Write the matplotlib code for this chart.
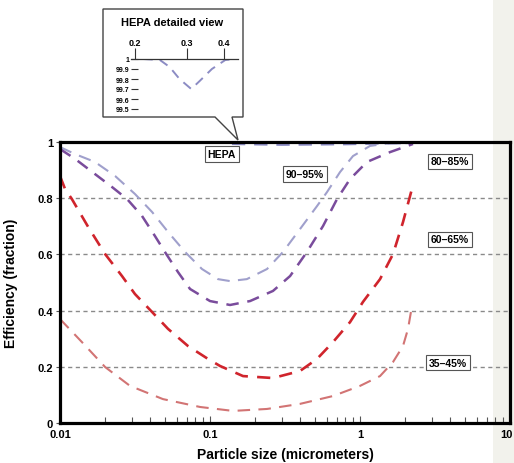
import matplotlib
matplotlib.use("Agg")
import matplotlib.pyplot as plt
from matplotlib.patches import Polygon, Rectangle
import matplotlib.transforms as mtransforms

plt.rcParams['font.family'] = ['Liberation Sans', 'DejaVu Sans']
plt.rcParams['font.weight'] = 'bold'

# particle size (micrometers) and efficiency (fraction) for each filter class
size_hepa = [0.14, 0.3, 0.8, 1.5, 2.15]
eff_hepa = [0.993, 0.99, 0.992, 0.995, 0.996]

size_90 = [0.01, 0.0126, 0.0171, 0.0233, 0.0316, 0.0411, 0.0525, 0.0681, 0.0884,
           0.113, 0.136, 0.176, 0.240, 0.307, 0.398, 0.517, 0.603, 0.736, 0.898,
           1.166, 1.585, 2.154]
eff_90 = [0.982, 0.957, 0.929, 0.879, 0.815, 0.751, 0.680, 0.609, 0.548,
          0.512, 0.505, 0.512, 0.548, 0.609, 0.690, 0.772, 0.822, 0.893, 0.950,
          0.986, 0.996, 0.996]

size_80 = [0.01, 0.0126, 0.0171, 0.0222, 0.028, 0.0352, 0.043, 0.050, 0.0612,
           0.0736, 0.10, 0.136, 0.185, 0.263, 0.342, 0.443, 0.567, 0.703, 0.858,
           1.113, 1.585, 2.256]
eff_80 = [0.975, 0.940, 0.886, 0.840, 0.797, 0.737, 0.665, 0.609, 0.537,
          0.477, 0.434, 0.420, 0.434, 0.470, 0.523, 0.609, 0.701, 0.797, 0.868,
          0.929, 0.964, 0.993]

size_60 = [0.01, 0.0108, 0.0120, 0.0154, 0.020, 0.0259, 0.0316, 0.0411, 0.0525,
           0.0713, 0.097, 0.1166, 0.166, 0.263, 0.398, 0.517, 0.661, 0.858, 1.047,
           1.36, 1.66, 1.935, 2.22]
eff_60 = [0.879, 0.833, 0.797, 0.698, 0.601, 0.523, 0.459, 0.395, 0.335,
          0.274, 0.228, 0.203, 0.167, 0.160, 0.185, 0.228, 0.288, 0.359, 0.431,
          0.512, 0.601, 0.715, 0.833]

size_35 = [0.01, 0.0140, 0.020, 0.0293, 0.0486, 0.0859, 0.1424, 0.240, 0.398,
           0.661, 1.0, 1.36, 1.66, 1.935, 2.09, 2.22]
eff_35 = [0.370, 0.288, 0.199, 0.132, 0.085, 0.057, 0.043, 0.050, 0.068,
          0.096, 0.132, 0.167, 0.217, 0.274, 0.335, 0.416]

# detailed HEPA view (efficiency in %)
size_detail = [0.213, 0.243, 0.262, 0.283, 0.31, 0.331, 0.364, 0.404, 0.436]
eff_detail = [100.0, 99.99, 99.92, 99.8, 99.7, 99.78, 99.9, 99.99, 100.0]

x_ticks = [0.01, 0.1, 1, 10]
x_labels = ['0.01', '0.1', '1', '10']
y_ticks = [0, 0.2, 0.4, 0.6, 0.8, 1]
y_labels = ['0', '0.2', '0.4', '0.6', '0.8', '1']
detail_xticks = [0.2, 0.3, 0.4]
detail_xlabels = ['0.2', '0.3', '0.4']
detail_yticks = [100, 99.9, 99.8, 99.7, 99.6, 99.5]
detail_ylabels = ['1', '99.9', '99.8', '99.7', '99.6', '99.5']

W, H = 514, 464
fig = plt.figure(figsize=(W / 100, H / 100), dpi=100)

# faint stripe on the right edge
fig.patches.append(Rectangle((493 / W, 0), 21 / W, 1, transform=fig.transFigure,
                             facecolor='#f2f2ec', edgecolor='none', zorder=-5))

ax = fig.add_axes([60 / W, 40 / H, 450 / W, 281 / H])
ax.set_facecolor('none')
ax.set_xscale('log')
ax.set_xlim(0.01, 10)
ax.set_ylim(0, 1)

for y in [0.2, 0.4, 0.6, 0.8]:
    ax.axhline(y, color='#8a8a8a', lw=1.0, dashes=(3, 2.5), zorder=1)

ax.plot(size_hepa, eff_hepa, color='#8c8cc4', lw=1.6, dashes=(6, 4), zorder=3)
ax.plot(size_90, eff_90, color='#a0a0cc', lw=1.5, dashes=(6, 4), zorder=3)
ax.plot(size_80, eff_80, color='#7a4c9c', lw=1.8, dashes=(5, 3.5), zorder=3)
ax.plot(size_60, eff_60, color='#d0242c', lw=1.9, dashes=(5, 3.5), zorder=3)
ax.plot(size_35, eff_35, color='#d27474', lw=1.5, dashes=(6, 4), zorder=3)

for sp in ax.spines.values():
    sp.set_linewidth(2.3)
    sp.set_color('black')
    sp.set_zorder(4)

ax.set_xticks(x_ticks)
ax.set_xticklabels(x_labels)
ax.set_yticks(y_ticks)
ax.set_yticklabels(y_labels)
ax.tick_params(axis='x', which='major', direction='in', length=5, width=0.8,
               labelsize=8, pad=4, color='#555555')
ax.tick_params(axis='x', which='minor', direction='in', length=4, width=0.8,
               color='#555555')
ax.tick_params(axis='y', direction='out', length=3, width=0.8, labelsize=8,
               pad=2, color='#555555')
ax.tick_params(top=False, right=False)
# nudge the last label so it stays on the canvas
last = ax.get_xticklabels()[-1]
last.set_transform(last.get_transform() +
                   mtransforms.ScaledTranslation(-4 / 100, 0, fig.dpi_scale_trans))

ax.set_xlabel('Particle size (micrometers)', fontsize=10, fontweight='bold')
ax.xaxis.set_label_coords(0.5, -0.085)
ax.set_ylabel('Efficiency (fraction)', fontsize=10, fontweight='bold')
ax.yaxis.set_label_coords(-0.093, 0.5)

box = dict(boxstyle='square,pad=0.25', facecolor='white', edgecolor='#555555', lw=0.8)
ax.text(0.12, 0.957, 'HEPA', fontsize=7.5, ha='center', va='center', bbox=box, zorder=5)
ax.text(0.43, 0.886, '90–95%', fontsize=7.5, ha='center', va='center', bbox=box, zorder=5)
ax.text(3.98, 0.932, '80–85%', fontsize=7.5, ha='center', va='center', bbox=box, zorder=5)
ax.text(3.98, 0.654, '60–65%', fontsize=7.5, ha='center', va='center', bbox=box, zorder=5)
ax.text(3.86, 0.214, '35–45%', fontsize=7.5, ha='center', va='center', bbox=box, zorder=5)

# callout box with tail pointing at the top of the chart
pts = [(103, 10), (243, 10), (243, 118), (232, 118), (238, 141), (215, 118), (103, 118)]
fig.patches.append(Polygon([(x / W, 1 - y / H) for x, y in pts], closed=True,
                           transform=fig.transFigure, facecolor='white',
                           edgecolor='#444444', lw=1.0, zorder=5))
fig.text(172 / W, 1 - 23 / H, 'HEPA detailed view', fontsize=8, fontweight='bold',
         ha='center', va='center', zorder=6)

axi = fig.add_axes([131 / W, 1 - 115 / H, 107 / W, 55 / H], zorder=6)
axi.set_facecolor('none')
axi.set_xscale('log')
axi.set_xlim(0.194, 0.446)
axi.set_ylim(99.45, 100)
axi.plot(size_detail, eff_detail, color='#8c8cc4', lw=1.4, dashes=(5, 3.5))
for k in ['left', 'right', 'bottom']:
    axi.spines[k].set_visible(False)
axi.spines['top'].set_linewidth(0.9)
axi.spines['top'].set_color('#333333')
axi.xaxis.tick_top()
axi.set_xticks(detail_xticks)
axi.set_xticklabels(detail_xlabels)
axi.xaxis.set_minor_locator(matplotlib.ticker.NullLocator())
axi.tick_params(axis='x', direction='out', length=8, width=0.8, labelsize=6.5,
                pad=1, color='#333333')
axi.set_yticks(detail_yticks)
axi.set_yticklabels(detail_ylabels)
axi.tick_params(axis='y', direction='in', length=5, width=0.8, labelsize=5,
                pad=1, color='#333333')

fig.savefig('out.png', dpi=100)
